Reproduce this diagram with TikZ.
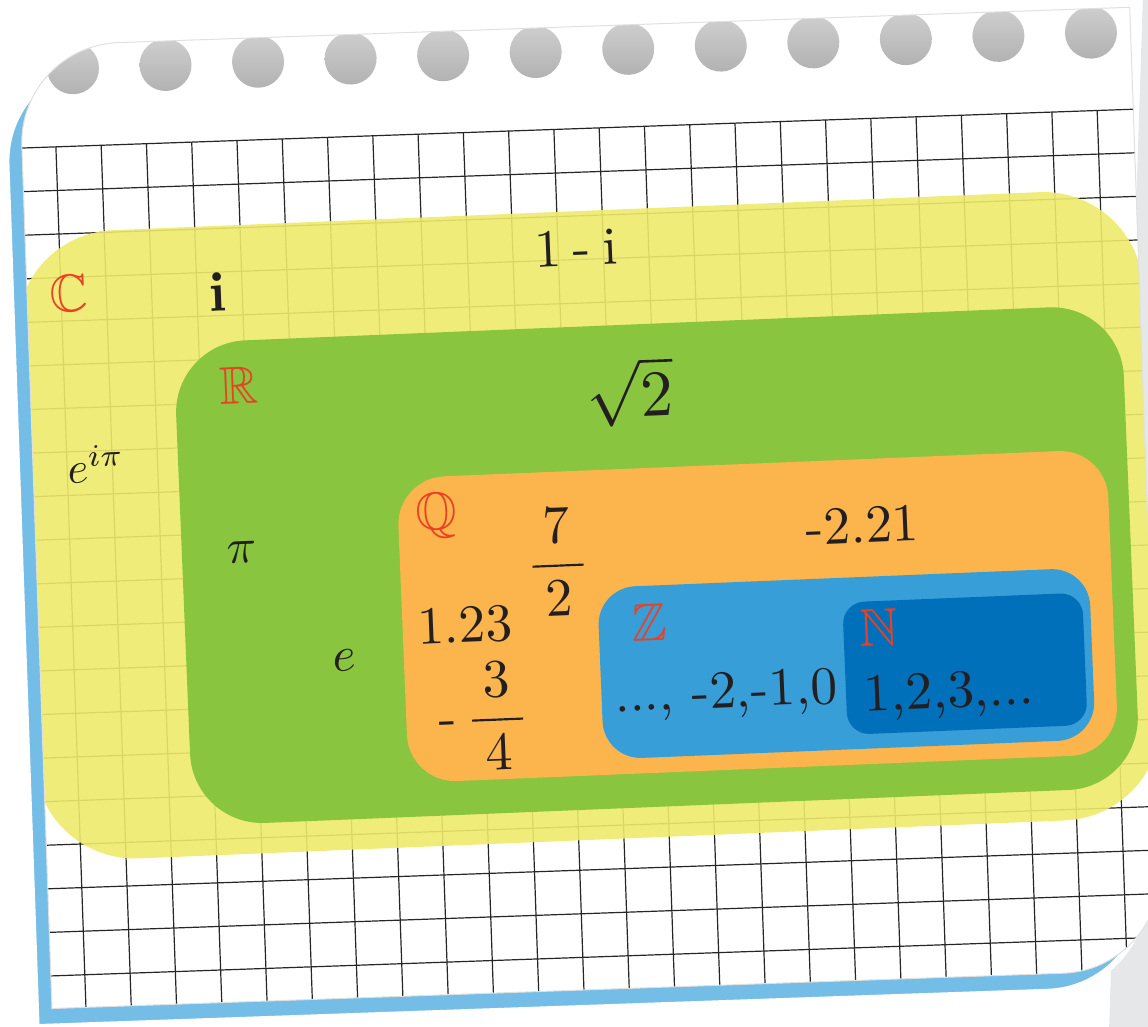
\documentclass[tikz,border=0pt]{standalone}
\usepackage{amssymb}

\definecolor{sheetgray}{RGB}{230,231,232}
\definecolor{pageblue}{RGB}{116,189,230}
\definecolor{holetop}{RGB}{206,206,206}
\definecolor{holebot}{RGB}{178,178,178}
\definecolor{setyellow}{RGB}{238,234,107}
\definecolor{setgreen}{RGB}{137,197,63}
\definecolor{setorange}{RGB}{251,181,76}
\definecolor{setblue}{RGB}{55,158,216}
\definecolor{setdeep}{RGB}{0,112,186}
\definecolor{setred}{RGB}{234,64,36}
\definecolor{inkblack}{RGB}{35,31,32}

% outline of the notebook sheet (page frame)
\newcommand{\pageshape}{(35,990) -- (35,127) .. controls (35,71.8) and (79.8,27) .. (135,27) -- (1147,27) -- (1147,890) .. controls (1147,945.2) and (1102.2,990) .. (1047,990) -- cycle}

\tikzset{
  gridline/.style={line width=1.2pt, black!85},
  holeshade/.style={top color=holetop, bottom color=holebot},
  setname/.style={inner sep=0pt, rotate=2.35, scale=5.3, text=setred, font=\fontsize{10}{12}\selectfont},
  member/.style={inner sep=0pt, rotate=2.35, scale=5.35, text=inkblack, font=\fontsize{10}{12}\selectfont},
  fracmember/.style={member, scale=1.01},
  varmember/.style={member, scale=0.92}
}

\begin{document}
\begin{tikzpicture}[x=1pt,y=-1pt]
\useasboundingbox (0,0) rectangle (1148,1027);

%Shape: Polygon [sheet behind]
\fill[sheetgray] (1143,-5) -- (1109,1032) -- (1160,1032) -- (1160,-5) -- cycle;

\begin{scope}[rotate around={2:(574,513)}]
  %Shape: Page backing
  \fill[pageblue, draw=white, line width=6pt, shift={(-16,18)}] \pageshape;
  %Shape: Page
  \fill[white] \pageshape;
  \begin{scope}
    \clip \pageshape;
    %Straight Lines [grid]
    \foreach \k in {0,...,19}
      \draw[gridline] (0,129+43.6*\k) -- (1200,129+43.6*\k);
    \foreach \k in {0,...,23}
      \draw[gridline] (69+45.3*\k,129) -- (69+45.3*\k,1000);
    %Shape: Circle [holes]
    \foreach \k in {0,...,11}
      \shade[holeshade] (88.8+92.6*\k,51) circle (26pt);
    %Shape: Rounded rectangles [number sets]
    \begin{scope}[rotate around={0.35:(574,513)}]
      \fill[setyellow, fill opacity=0.9, rounded corners=100pt] (25,211.5) rectangle (1152,840.3);
      \fill[setgreen, rounded corners=72pt] (180.5,327) rectangle (1129,810);
      \fill[setorange, rounded corners=48pt] (398,471) rectangle (1108.5,776);
      \fill[setblue, rounded corners=38pt] (594,588.7) rectangle (1086,760.5);
      \fill[setdeep, rounded corners=22pt] (838.4,613.4) rectangle (1078.5,745.8);
    \end{scope}
  \end{scope}
  \draw[black!12, line width=1pt] \pageshape;
\end{scope}

% Text Node
\node[setname] (setC) at (69,293) {$\mathbb{C}$};
\node[member, scale=1.05, font=\fontsize{10}{12}\selectfont\bfseries] (imag) at (218,292) {i};
\node[member] (oneminusi) at (576,247.5) {1\hspace{.22em}-\hspace{.22em}i};
% Text Node
\node[setname] (setR) at (239,385) {$\mathbb{R}$};
\node[member, scale=1.22] (roottwo) at (630,392) {$\sqrt{2}$};
\node[varmember, scale=0.9] (euler) at (96,464) {$e^{i\pi}$};
\node[varmember] (pinum) at (242,552) {$\pi$};
\node[varmember] (enum) at (345,660) {$e$};
% Text Node
\node[setname] (setQ) at (437,516) {$\mathbb{Q}$};
\node[fracmember] (sevenhalf) at (558,562) {$\displaystyle\frac{\mkern4mu 7\mkern4mu}{\mkern4mu 2\mkern4mu}$};
\node[member] (onetwothree) at (465,625) {1.23};
\node[fracmember] (threequart) at (484,716.5) {-\,$\displaystyle\frac{\mkern4mu 3\mkern4mu}{\mkern4mu 4\mkern4mu}$};
\node[member] (negdec) at (862.5,525) {-2.21};
% Text Node
\node[setname] (setZ) at (649,623) {$\mathbb{Z}$};
\node[member] (negints) at (726,695) {..., -2,-1,0};
% Text Node
\node[setname] (setN) at (878.5,627) {$\mathbb{N}$};
\node[member] (naturals) at (949,695) {1,2,3,...};

\end{tikzpicture}
\end{document}
